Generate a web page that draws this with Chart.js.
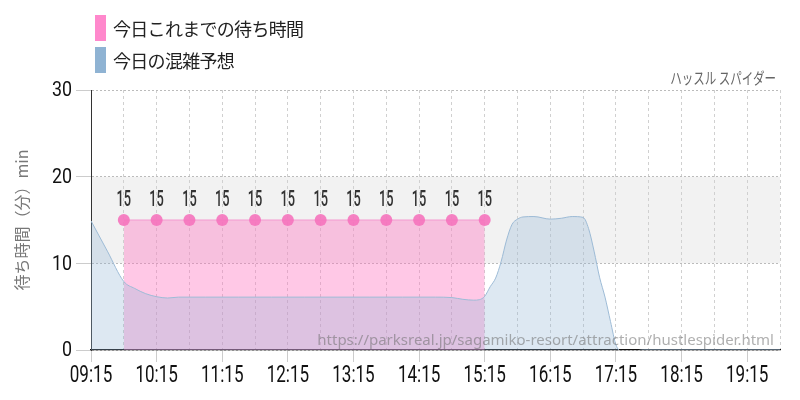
<!DOCTYPE html>
<html><head><meta charset="utf-8">
<script src="https://cdn.jsdelivr.net/npm/chart.js@4/dist/chart.umd.min.js"></script>
<style>
html,body{margin:0;padding:0;background:#fff;}
#wrap{position:relative;width:800px;height:400px;overflow:hidden;}
canvas{position:absolute;left:0;top:0;}
.lg{position:absolute;left:95px;height:26px;display:flex;align-items:center;font-family:"Noto Sans CJK JP";font-size:18px;letter-spacing:-0.7px;color:#222;white-space:nowrap;}
.lg .box{width:11px;height:26px;margin-right:7px;flex:none;}
#title{position:absolute;right:24px;top:66px;font-family:"Noto Sans CJK JP";font-size:16px;line-height:22px;color:#666;transform:scaleX(0.72);transform-origin:right center;white-space:nowrap;}
#wm{position:absolute;right:26px;top:329px;font-family:"Noto Sans";font-size:15px;line-height:20px;color:rgba(110,110,110,0.55);pointer-events:none;white-space:nowrap;}
</style></head>
<body>
<div id="wrap">
<canvas id="c" width="800" height="400"></canvas>
<div class="lg" style="top:15px"><span class="box" style="background:#ff88cc"></span><span id="lg1"></span></div>
<div class="lg" style="top:47px"><span class="box" style="background:#8fb3d3"></span><span id="lg2"></span></div>
<div id="title"></div>
<div id="wm"></div>
</div>
<script>
const chartTitle = 'ハッスル スパイダー';
const actualLabel = '今日これまでの待ち時間';
const forecastLabel = '今日の混雑予想';
const yAxisTitle = '待ち時間（分）min';
const sourceUrl = 'https://parksreal.jp/sagamiko-resort/attraction/hustlespider.html';

const actualTimes = ['09:45','10:15','10:45','11:15','11:45','12:15','12:45','13:15','13:45','14:15','14:45','15:15'];
const actualValues = [15,15,15,15,15,15,15,15,15,15,15,15];

const forecastTimes = ['09:15','09:30','09:45','09:55','10:05','10:15','10:25','10:35','11:00','11:30','12:00','12:30','13:00','13:30','14:00','14:30','14:45','14:55','15:05','15:10','15:15','15:20','15:25','15:30','15:35','15:40','15:45','15:50','16:00','16:15','16:25','16:35','16:45','16:50','16:55','17:00','17:05','17:10','17:15','17:20','17:25','17:30','17:40','18:00','18:30','19:00','19:30','19:45'];
const forecastValues = [14.9,11.4,7.9,7.1,6.5,6.15,6.0,6.1,6.1,6.1,6.1,6.1,6.1,6.1,6.1,6.1,6.05,5.85,5.75,5.8,6.2,7.3,8.3,10.2,12.7,14.5,15.1,15.35,15.4,15.1,15.2,15.4,15.3,14.0,11.4,8.4,6.1,3.3,0.6,-0.2,-0.3,-0.2,0,0,0,0,0,0];

const xTickLabels = ['09:15','10:15','11:15','12:15','13:15','14:15','15:15','16:15','17:15','18:15','19:15'];
const yTickLabels = ['0','10','20','30'];
const xStart = '09:15', xEnd = '19:45';

function toMin(t){const p=t.split(':');return (+p[0])*60+(+p[1]);}
const X_MIN = toMin(xStart), X_MAX = toMin(xEnd);

document.getElementById('lg1').textContent = actualLabel;
document.getElementById('lg2').textContent = forecastLabel;
document.getElementById('title').textContent = chartTitle;
document.getElementById('wm').textContent = sourceUrl;

const bandPlugin = {
  id:'band',
  beforeDraw(chart){
    const {ctx, chartArea:a, scales:{y}} = chart;
    const t = y.getPixelForValue(20), b = y.getPixelForValue(10);
    ctx.save(); ctx.fillStyle='#f2f2f2'; ctx.fillRect(a.left, t, a.right-a.left, b-t); ctx.restore();
  }
};

function drawScaled(ctx, text, x, y, sx, align){
  ctx.save(); ctx.translate(x,y); ctx.scale(sx,1); ctx.textAlign=align; ctx.textBaseline='middle'; ctx.fillText(text,0,0); ctx.restore();
}

const labelPlugin = {
  id:'labels',
  afterDraw(chart){
    const {ctx, chartArea:a, scales:{x,y}} = chart;
    ctx.save();
    ctx.fillStyle='#111';
    ctx.font='24px Roboto';
    xTickLabels.forEach(l=>{ drawScaled(ctx,l,x.getPixelForValue(toMin(l)),a.bottom+26,0.71,'center'); });
    ctx.font='21px Roboto';
    yTickLabels.forEach(l=>{ drawScaled(ctx,l,72,y.getPixelForValue(+l)+1,0.85,'right'); });
    ctx.fillStyle='#333';
    ctx.font='500 22px Roboto';
    const meta = chart.getDatasetMeta(1);
    meta.data.forEach((pt,i)=>{ drawScaled(ctx,String(actualValues[i]),pt.x,pt.y-20,0.58,'center'); });
    ctx.restore();
  }
};

new Chart(document.getElementById('c'), {
  type:'line',
  data:{
    datasets:[
      {label:forecastLabel, data:forecastTimes.map((t,i)=>({x:toMin(t),y:forecastValues[i]})),
       borderColor:'#9dbbd6', borderWidth:1, backgroundColor:'rgba(143,179,211,0.3)', fill:'origin',
       pointRadius:0, cubicInterpolationMode:'monotone', order:0},
      {label:actualLabel, data:actualTimes.map((t,i)=>({x:toMin(t),y:actualValues[i]})),
       borderColor:'#f49ad0', borderWidth:1, backgroundColor:'rgba(255,110,190,0.38)', fill:'origin',
       pointRadius:6, pointBackgroundColor:'rgba(245,115,188,0.9)', pointBorderWidth:0, order:1}
    ]
  },
  options:{
    responsive:false, animation:false, devicePixelRatio:1,
    layout:{padding:{top:90,right:20,bottom:0,left:0}},
    plugins:{legend:{display:false}, tooltip:{enabled:false}},
    scales:{
      x:{type:'linear', min:X_MIN, max:X_MAX,
         ticks:{display:false, stepSize:30, autoSkip:false},
         grid:{color:'#d0d0d0', tickLength:12, tickColor:(c)=> (c.tick && ((c.tick.value-X_MIN)%60===0)) ? '#cccccc' : 'rgba(0,0,0,0)'},
         border:{display:true, color:'#111', width:1.2, dash:[3,3]},
         afterFit(s){ s.height = 50; }},
      y:{min:0, max:30,
         ticks:{display:false, stepSize:10},
         grid:{color:'#bbbbbb', tickLength:15, tickColor:'#cccccc'},
         border:{display:true, color:'#333', width:1, dash:[2,2]},
         title:{display:true, text:yAxisTitle, color:'#777', font:{family:'Noto Sans CJK JP', size:16}, padding:{top:12,bottom:0}},
         afterFit(s){ s.width = 91; }}
    }
  },
  plugins:[bandPlugin,labelPlugin]
});
</script>
</body></html>
